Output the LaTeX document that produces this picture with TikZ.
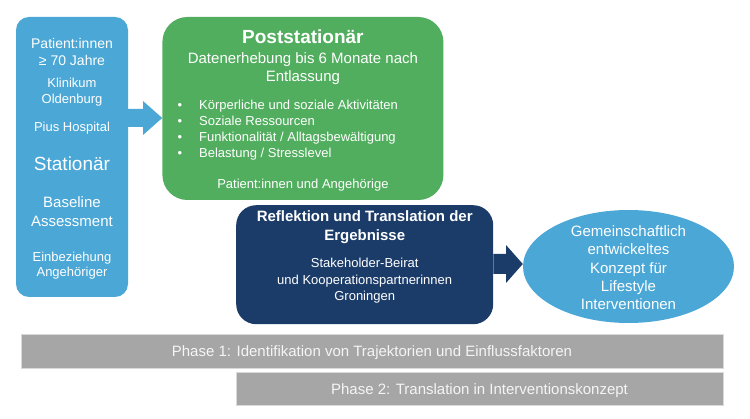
\documentclass[tikz,border=0pt]{standalone}
\usepackage{fontspec}
\setmainfont{Liberation Sans}
\usetikzlibrary{positioning, shapes.geometric}
\definecolor{hellblau}{HTML}{4BA7D6}
\definecolor{gruen}{HTML}{52AE5F}
\definecolor{dunkelblau}{HTML}{1B3C69}
\definecolor{phasengrau}{HTML}{A6A6A6}
\tikzset{
  ablauf/.style={
	x=1pt, y=-1pt, % pixel like coordinates, y runs downwards
	every node/.style={inner sep=0pt, text=white},
  },
  block/.style={rectangle, fill=#1, minimum width=0pt}, % coloured boxes
  zeile/.style={anchor=base, font=\fontsize{#1}{#1}\selectfont}, % one text line
  fett/.style={anchor=base, font=\bfseries\fontsize{#1}{#1}\selectfont},
  phase/.style={fill=phasengrau, draw=gray!30, line width=0.8pt, text=gray!8,
	font=\fontsize{15}{15}\selectfont, text height=11pt, text depth=0pt},
}
\begin{document}
\begin{tikzpicture}[ablauf]
	  \useasboundingbox (0,0) rectangle (750,419);

	  % boxes
	  \node[block=hellblau, rounded corners=13pt, minimum width=112pt, minimum height=280pt] (stat) at (72,157) {};
	  \node[block=gruen, rounded corners=25pt, minimum width=281pt, minimum height=183pt,
		right=34pt of stat.north east, anchor=north west] (post) {};
	  \node[block=dunkelblau, rounded corners=20pt, minimum width=257pt, minimum height=119pt,
		anchor=north west] (refl) at (236,205) {};
	  \node[ellipse, fill=hellblau, minimum width=211pt, minimum height=113pt] (konzept) at (628.5,266.5) {};
	  \node[phase, minimum width=702pt, minimum height=34pt] (phase1) at (372,351)
		{Phase 1: Identifikation von Trajektorien und Einflussfaktoren};
	  \node[phase, minimum width=487pt, minimum height=33pt,
		below=4pt of phase1.south east, anchor=north east] (phase2)
		{Phase 2: Translation in Interventionskonzept};

	  % block arrows
	  \fill[hellblau] (stat.east |- 0,109) -- (143,109) -- (143,101) -- (post.west |- 0,118)
		-- (143,135) -- (143,127) -- (stat.east |- 0,127) -- cycle;
	  \fill[dunkelblau] (refl.east |- 0,254) -- (506,254) -- (506,245) -- (konzept.west |- 0,264)
		-- (506,283) -- (506,274) -- (refl.east |- 0,274) -- cycle;

	  % texts
	  \foreach \txt/\gr/\y [count=\i] in {Patient:innen/14/49, ≥ 70 Jahre/14/66, Klinikum/13/87.5,
		Oldenburg/13/104, Pius Hospital/13/131.5, Stationär/19/171, Baseline/15/208,
		Assessment/15/227, Einbeziehung/13/261.5, Angehöriger/13/277}
		\node[zeile=\gr] (stat-\i) at (stat.center |- 0,\y) {\txt};

	  \node[fett=19] (post-titel) at (post.center |- 0,44) {Poststationär};
	  \node[zeile=15] (post-1) at (post.center |- 0,64) {Datenerhebung bis 6 Monate nach};
	  \node[zeile=15] (post-2) at (post.center |- 0,81.5) {Entlassung};
	  \foreach \txt [count=\i] in {Körperliche und soziale Aktivitäten, Soziale Ressourcen,
		Funktionalität / Alltagsbewältigung, Belastung / Stresslevel} {
		\node[zeile=13] (punkt-\i) at (180,93.5+16*\i) {•};
		\node[zeile=13, anchor=base west] (liste-\i) at (199,93.5+16*\i) {\txt};
	  }
	  \node[zeile=13] (post-3) at (post.center |- 0,189) {Patient:innen und Angehörige};

	  \node[fett=15] (refl-1) at (refl.center |- 0,222) {Reflektion und Translation der};
	  \node[fett=15] (refl-2) at (refl.center |- 0,241) {Ergebnisse};
	  \foreach \txt/\y [count=\i] in {Stakeholder-Beirat/267.5, und Kooperationspartnerinnen/284.5, Groningen/300.5}
		\node[zeile=13] (refl-text-\i) at (refl.center |- 0,\y) {\txt};

	  \foreach \txt [count=\i] in {Gemeinschaftlich, entwickeltes, Konzept für, Lifestyle, Interventionen}
		\node[zeile=15] (konzept-\i) at (konzept.center |- 0,218.2+18.3*\i) {\txt};
\end{tikzpicture}
\end{document}
